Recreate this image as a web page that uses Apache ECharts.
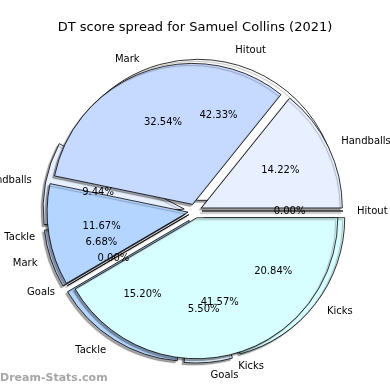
<!DOCTYPE html>
<html><head><meta charset="utf-8">
<script src="https://cdn.jsdelivr.net/npm/echarts@6/dist/echarts.min.js"></script>
<style>html,body{margin:0;padding:0;background:#fff}#c{width:390px;height:390px}</style>
</head><body><div id="c"></div>
<script>
const categories = ['Hitout', 'Handballs', 'Mark', 'Tackle', 'Goals', 'Kicks'];
const pieFrontValues = [0.00, 14.22, 32.54, 11.67, 0.00, 41.57];
const pieBackValues = [42.33, 9.44, 6.68, 15.20, 5.50, 20.84];
const sliceColors = ['#ffffff', '#e8f0ff', '#c6d9ff', '#b4d5ff', '#dcefff', '#d8ffff'];
const titleText = 'DT score spread for Samuel Collins (2021)';
const watermark = 'Dream-Stats.com';

const C = [195, 211];
const R = 141;
const FONT = 'DejaVu Sans';

function pieData(vals, visible) {
  return vals.map((v, i) => ({
    name: categories[i], value: v, selected: true,
    itemStyle: visible ? { color: sliceColors[i] } : { color: 'rgba(0,0,0,0)' }
  }));
}
function shapeSeries(vals, offset) {
  return {
    type: 'pie', center: C, radius: [0, R], startAngle: 0, clockwise: false,
    selectedMode: 'multiple', selectedOffset: offset, avoidLabelOverlap: false,
    stillShowZeroSum: true, minShowLabelAngle: 0, silent: true,
    labelLayout: { hideOverlap: false },
    data: pieData(vals, true),
    itemStyle: { borderColor: '#000', borderWidth: 0.8,
      shadowColor: 'rgba(0,0,0,0.35)', shadowBlur: 1, shadowOffsetX: -2, shadowOffsetY: 2 },
    label: { show: true, position: 'outside', color: '#000', fontFamily: FONT, fontSize: 10,
      formatter: p => p.name, distanceToLabelLine: 1 },
    labelLine: { show: false, length: 13, length2: 0 },
    emphasis: { disabled: true }
  };
}
function pctSeries(vals, offset) {
  return {
    type: 'pie', center: C, radius: [0, R * 1.2], startAngle: 0, clockwise: false,
    selectedMode: 'multiple', selectedOffset: offset, avoidLabelOverlap: false,
    stillShowZeroSum: true, minShowLabelAngle: 0, silent: true, z: 5,
    labelLayout: { hideOverlap: false },
    data: pieData(vals, false),
    itemStyle: { borderWidth: 0 },
    label: { show: true, position: 'inside', color: '#000', fontFamily: FONT, fontSize: 10,
      overflow: 'none', formatter: p => Number(p.value).toFixed(2) + '%' },
    labelLine: { show: false },
    emphasis: { disabled: true }
  };
}

const chart = echarts.init(document.getElementById('c'), null, { renderer: 'canvas' });
chart.setOption({
  animation: false,
  backgroundColor: '#fff',
  title: [{ text: titleText, left: 'center', top: 16,
      textStyle: { fontFamily: FONT, fontSize: 13, fontWeight: 'normal', color: '#000' } },
    { text: watermark, left: 0, top: 373, padding: 0,
      textStyle: { fontFamily: FONT, fontSize: 11, fontWeight: 'bold', color: '#a6a6a6' } }],
  series: [
    shapeSeries(pieBackValues, 11),
    shapeSeries(pieFrontValues, 7),
    pctSeries(pieBackValues, 11),
    pctSeries(pieFrontValues, 7)
  ]
});
</script></body></html>
